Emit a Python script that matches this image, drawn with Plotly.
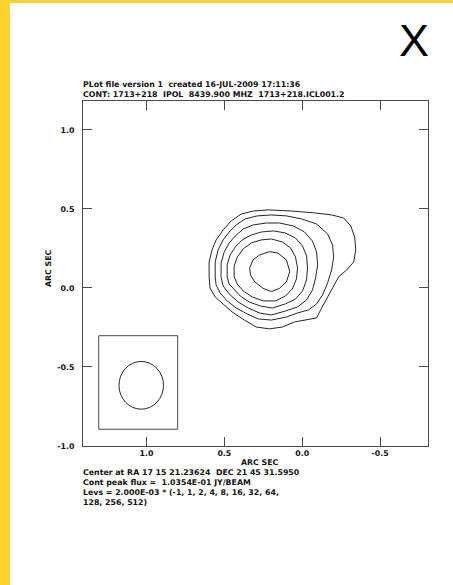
import plotly.graph_objects as go

# ---- axis / tick definitions (arc seconds) ----
x_ticks = [1.0, 0.5, 0.0, -0.5]
x_tick_labels = ["1.0", "0.5", "0.0", "-0.5"]
y_ticks = [-1.0, -0.5, 0.0, 0.5, 1.0]
y_tick_labels = ["-1.0", "-0.5", "0.0", "0.5", "1.0"]
x_range = [1.408, -0.808]
y_range = [-1.0, 1.183]

# ---- contour levels (multiples of 2.000E-03 Jy/beam) ----
level_factors = [1, 2, 4, 8, 16, 32]

lev1_x = [0.598, 0.598, 0.579, 0.553, 0.508, 0.456, 0.392, 0.314, 0.217, 0.069, -0.079, -0.189,
          -0.266, -0.312, -0.337, -0.344, -0.331, -0.286, -0.234, -0.202, -0.163, -0.125, -0.092,
          -0.028, 0.050, 0.127, 0.211, 0.295, 0.372, 0.450, 0.508, 0.559, 0.592]
lev1_y = [0.070, 0.165, 0.241, 0.304, 0.367, 0.424, 0.468, 0.487, 0.494, 0.487, 0.475, 0.462,
          0.443, 0.392, 0.323, 0.241, 0.165, 0.114, 0.070, 0.013, -0.051, -0.127, -0.190,
          -0.203, -0.215, -0.247, -0.259, -0.247, -0.203, -0.152, -0.101, -0.057, 0.000]

lev2_x = [0.559, 0.559, 0.540, 0.508, 0.469, 0.424, 0.366, 0.288, 0.198, 0.101, 0.005, -0.092,
          -0.163, -0.195, -0.202, -0.189, -0.163, -0.131, -0.092, -0.041, 0.030, 0.101, 0.198,
          0.282, 0.353, 0.424, 0.482, 0.527, 0.553]
lev2_y = [0.070, 0.165, 0.241, 0.304, 0.354, 0.399, 0.437, 0.456, 0.462, 0.456, 0.437, 0.405,
          0.342, 0.272, 0.196, 0.114, 0.032, -0.044, -0.101, -0.139, -0.158, -0.184, -0.203,
          -0.196, -0.165, -0.127, -0.082, -0.032, 0.019]

lev3_x = [0.521, 0.521, 0.501, 0.469, 0.430, 0.379, 0.314, 0.230, 0.146, 0.056, -0.015, -0.066,
          -0.092, -0.099, -0.086, -0.066, -0.028, 0.030, 0.108, 0.198, 0.275, 0.346, 0.411,
          0.469, 0.508]
lev3_y = [0.070, 0.158, 0.228, 0.285, 0.329, 0.373, 0.399, 0.411, 0.411, 0.392, 0.354, 0.297,
          0.228, 0.146, 0.063, -0.013, -0.076, -0.120, -0.146, -0.171, -0.158, -0.127, -0.089,
          -0.038, 0.013]

lev4_x = [0.482, 0.482, 0.463, 0.430, 0.385, 0.327, 0.263, 0.185, 0.108, 0.043, -0.002, -0.028,
          -0.034, -0.028, -0.002, 0.043, 0.108, 0.192, 0.269, 0.340, 0.398, 0.443, 0.469]
lev4_y = [0.070, 0.146, 0.209, 0.259, 0.304, 0.335, 0.354, 0.361, 0.348, 0.316, 0.266, 0.203,
          0.127, 0.051, -0.019, -0.070, -0.101, -0.127, -0.114, -0.089, -0.051, -0.006, 0.025]

lev5_x = [0.437, 0.437, 0.417, 0.379, 0.327, 0.263, 0.198, 0.127, 0.075, 0.043, 0.030, 0.037,
          0.063, 0.108, 0.172, 0.250, 0.321, 0.379, 0.417]
lev5_y = [0.070, 0.139, 0.196, 0.247, 0.285, 0.304, 0.310, 0.291, 0.253, 0.196, 0.127, 0.057,
          -0.006, -0.051, -0.082, -0.082, -0.057, -0.019, 0.025]

lev6_x = [0.338, 0.316, 0.274, 0.209, 0.155, 0.101, 0.080, 0.101, 0.145, 0.198, 0.252, 0.306, 0.332]
lev6_y = [0.125, 0.177, 0.209, 0.230, 0.220, 0.177, 0.103, 0.040, -0.002, -0.023, -0.002, 0.040, 0.082]

contours_x = [lev1_x, lev2_x, lev3_x, lev4_x, lev5_x, lev6_x]
contours_y = [lev1_y, lev2_y, lev3_y, lev4_y, lev5_y, lev6_y]

# ---- restoring beam (lower-left box) ----
beam_center = (1.034, -0.616)
beam_radius_x = 0.143
beam_radius_y = 0.151
beam_box_x = [1.307, 0.800]
beam_box_y = [-0.894, -0.302]

# ---- text ----
header_lines = ["PLot file version 1  created 16-JUL-2009 17:11:36",
                "CONT: 1713+218  IPOL  8439.900 MHZ  1713+218.ICL001.2"]
footer_lines = ["Center at RA 17 15 21.23624  DEC 21 45 31.5950",
                "Cont peak flux =  1.0354E-01 JY/BEAM",
                "Levs = 2.000E-03 * (-1, 1, 2, 4, 8, 16, 32, 64,",
                "128, 256, 512)"]
axis_title = "ARC SEC"
corner_mark = "X"

# ---- page geometry ----
W, H = 453, 585
ML, MR, MT, MB = 83, 25, 101, 139
PW, PH = W - ML - MR, H - MT - MB
FONT = "DejaVu Sans, Verdana, sans-serif"
TXT = 7.85
INK = "#111111"
FRAME = "#4a4a4a"
YELLOW = "#FFD22E"


def px(xp):
    return (xp - ML) / PW


def py(yp):
    return (H - MB - yp) / PH


def bold(s):
    # keep the doubled spaces of the plot-file text
    return "<b>%s</b>" % s.replace("  ", " &nbsp;")


fig = go.Figure()

for cx, cy in zip(contours_x, contours_y):
    fig.add_trace(go.Scatter(
        x=cx + cx[:1], y=cy + cy[:1], mode="lines",
        line=dict(color="#262626", width=1), hoverinfo="skip", showlegend=False))

shapes = [
    # beam box and beam ellipse
    dict(type="rect", xref="x", yref="y", x0=beam_box_x[0], x1=beam_box_x[1],
         y0=beam_box_y[0], y1=beam_box_y[1], line=dict(color=FRAME, width=1)),
    dict(type="circle", xref="x", yref="y",
         x0=beam_center[0] - beam_radius_x, x1=beam_center[0] + beam_radius_x,
         y0=beam_center[1] - beam_radius_y, y1=beam_center[1] + beam_radius_y,
         line=dict(color="#262626", width=1)),
    # yellow page border strips
    dict(type="rect", xref="paper", yref="paper", x0=px(0), x1=px(10), y0=py(H), y1=py(0),
         fillcolor=YELLOW, line=dict(width=0), layer="below"),
    dict(type="rect", xref="paper", yref="paper", x0=px(0), x1=px(W), y0=py(3), y1=py(0),
         fillcolor=YELLOW, line=dict(width=0), layer="below"),
]

annotations = []
for i, t in enumerate(header_lines):
    annotations.append(dict(text=bold(t), x=px(82), y=py(85 + 9.6 * i),
                            xref="paper", yref="paper", xanchor="left", yanchor="middle",
                            showarrow=False, borderpad=0,
                            font=dict(family=FONT, size=TXT, color=INK)))
for i, t in enumerate(footer_lines):
    annotations.append(dict(text=bold(t), x=px(82), y=py(472.5 + 10 * i),
                            xref="paper", yref="paper", xanchor="left", yanchor="middle",
                            showarrow=False, borderpad=0,
                            font=dict(family=FONT, size=TXT, color=INK)))
annotations.append(dict(text=bold(axis_title), x=px(260), y=py(462.7),
                        xref="paper", yref="paper", xanchor="center", yanchor="middle",
                        showarrow=False, borderpad=0,
                        font=dict(family=FONT, size=TXT, color=INK)))
annotations.append(dict(text=bold(axis_title), x=px(48), y=py(268),
                        xref="paper", yref="paper", xanchor="center", yanchor="middle",
                        textangle=-90, showarrow=False, borderpad=0,
                        font=dict(family=FONT, size=TXT, color=INK)))
annotations.append(dict(text=corner_mark, x=px(413.7), y=py(41),
                        xref="paper", yref="paper", xanchor="center", yanchor="middle",
                        showarrow=False,
                        font=dict(family="Liberation Sans, Arial, sans-serif", size=45,
                                  color="#000000")))

axis_common = dict(showgrid=False, zeroline=False, showline=True, linecolor=FRAME,
                   linewidth=1, mirror="ticks", ticks="inside", ticklen=9,
                   tickcolor=FRAME, tickwidth=1,
                   tickfont=dict(family=FONT, size=TXT, color=INK))

fig.update_layout(
    width=W, height=H,
    margin=dict(l=ML, r=MR, t=MT, b=MB, pad=0),
    paper_bgcolor="white", plot_bgcolor="white",
    xaxis=dict(range=x_range, tickvals=x_ticks,
               ticktext=["<b>%s</b>" % s for s in x_tick_labels], **axis_common),
    yaxis=dict(range=y_range, tickvals=y_ticks,
               ticktext=["<b>%s</b>" % s for s in y_tick_labels],
               ticklabelstandoff=6, **axis_common),
    shapes=shapes, annotations=annotations, showlegend=False,
)

fig.write_html("out.html")
